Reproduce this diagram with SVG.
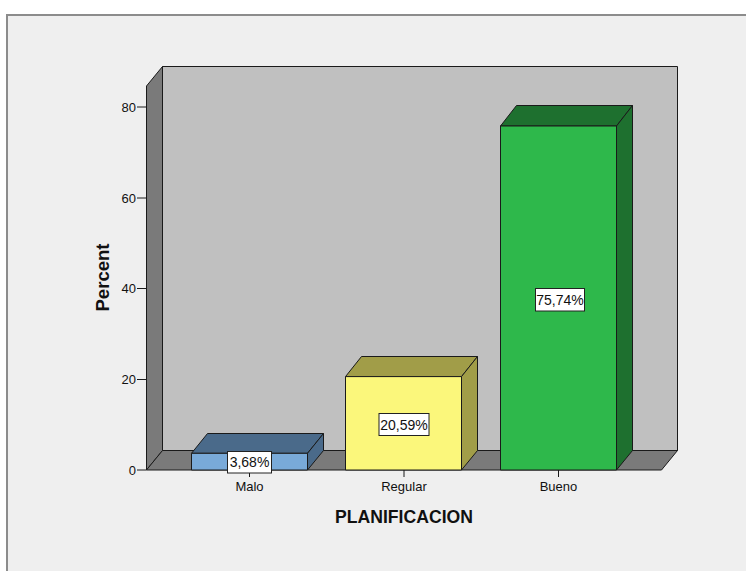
<svg xmlns="http://www.w3.org/2000/svg" width="746" height="571" viewBox="0 0 746 571">
<style>
text{font-family:"Liberation Sans",Arial,sans-serif;fill:#111}
.tk{font-size:13px}
.vl{font-size:14px}
.ln{stroke:#1a1a1a;stroke-width:1;stroke-linejoin:round}
.lbl{fill:#fff;stroke:#222;stroke-width:1}
.axis{font-size:18px;font-weight:bold}
</style>
<rect x="0" y="0" width="746" height="571" fill="#ffffff"/>
<rect x="7" y="15" width="760" height="600" fill="#efefef" stroke="#8c8c8c" stroke-width="2"/>
<g id="frame">
<polygon class="ln" points="162.5,66.5 677.5,66.5 677.5,450.5 162.5,450.5" fill="#c0c0c0"/>
<polygon class="ln" points="146.5,86 162.5,66.5 162.5,450.5 146.5,470" fill="#7a7a7a"/>
<polygon class="ln" points="146.5,470 162.5,450.5 677.5,450.5 661.5,470" fill="#7a7a7a"/>
</g>
<g id="yaxis">
<g stroke="#1a1a1a" stroke-width="1">
<line x1="137" y1="470" x2="146.5" y2="470"/>
<line x1="137" y1="379.5" x2="146.5" y2="379.5"/>
<line x1="137" y1="288.5" x2="146.5" y2="288.5"/>
<line x1="137" y1="198" x2="146.5" y2="198"/>
<line x1="137" y1="107" x2="146.5" y2="107"/>
</g>
<text class="tk" x="136" y="474.5" text-anchor="end">0</text>
<text class="tk" x="136" y="384" text-anchor="end">20</text>
<text class="tk" x="136" y="293" text-anchor="end">40</text>
<text class="tk" x="136" y="202.5" text-anchor="end">60</text>
<text class="tk" x="136" y="111.5" text-anchor="end">80</text>
<text class="axis" transform="translate(109,277.5) rotate(-90)" text-anchor="middle" textLength="68" lengthAdjust="spacingAndGlyphs">Percent</text>
</g>
<g id="bar-malo">
<polygon class="ln" points="191.5,453.3 207.5,433.5 323.5,433.5 307.5,453.3" fill="#4a6a8a"/>
<polygon class="ln" points="307.5,453.3 323.5,433.5 323.5,450.5 307.5,470" fill="#4a6a8a"/>
<rect class="ln" x="191.5" y="453.3" width="116" height="16.7" fill="#79aad9"/>
<line x1="249.5" y1="470" x2="249.5" y2="477" stroke="#1a1a1a"/>
<rect class="lbl" x="227.5" y="451.5" width="44" height="21.5"/>
<text class="vl" x="249.5" y="467.2" text-anchor="middle">3,68%</text>
<text class="tk" x="249.5" y="491" text-anchor="middle">Malo</text>
</g>
<g id="bar-regular">
<polygon class="ln" points="345.5,376.6 361.5,356.5 477.5,356.5 461.5,376.6" fill="#a19d48"/>
<polygon class="ln" points="461.5,376.6 477.5,356.5 477.5,450.5 461.5,470" fill="#a19d48"/>
<rect class="ln" x="345.5" y="376.6" width="116" height="93.4" fill="#fbf77b"/>
<line x1="404" y1="470" x2="404" y2="477" stroke="#1a1a1a"/>
<rect class="lbl" x="379" y="413.5" width="50" height="22"/>
<text class="vl" x="404" y="429.5" text-anchor="middle">20,59%</text>
<text class="tk" x="404" y="491" text-anchor="middle">Regular</text>
</g>
<g id="bar-bueno">
<polygon class="ln" points="500.5,126 516.5,105.5 632.5,105.5 616.5,126" fill="#1e702f"/>
<polygon class="ln" points="616.5,126 632.5,105.5 632.5,450.5 616.5,470" fill="#1e702f"/>
<rect class="ln" x="500.5" y="126" width="116" height="344" fill="#2eb84b"/>
<line x1="558.5" y1="470" x2="558.5" y2="477" stroke="#1a1a1a"/>
<rect class="lbl" x="535.5" y="288.5" width="49" height="22.5"/>
<text class="vl" x="560" y="305" text-anchor="middle">75,74%</text>
<text class="tk" x="558.5" y="491" text-anchor="middle">Bueno</text>
</g>
<text class="axis" x="404" y="522.5" text-anchor="middle" textLength="138" lengthAdjust="spacingAndGlyphs">PLANIFICACION</text>
</svg>
